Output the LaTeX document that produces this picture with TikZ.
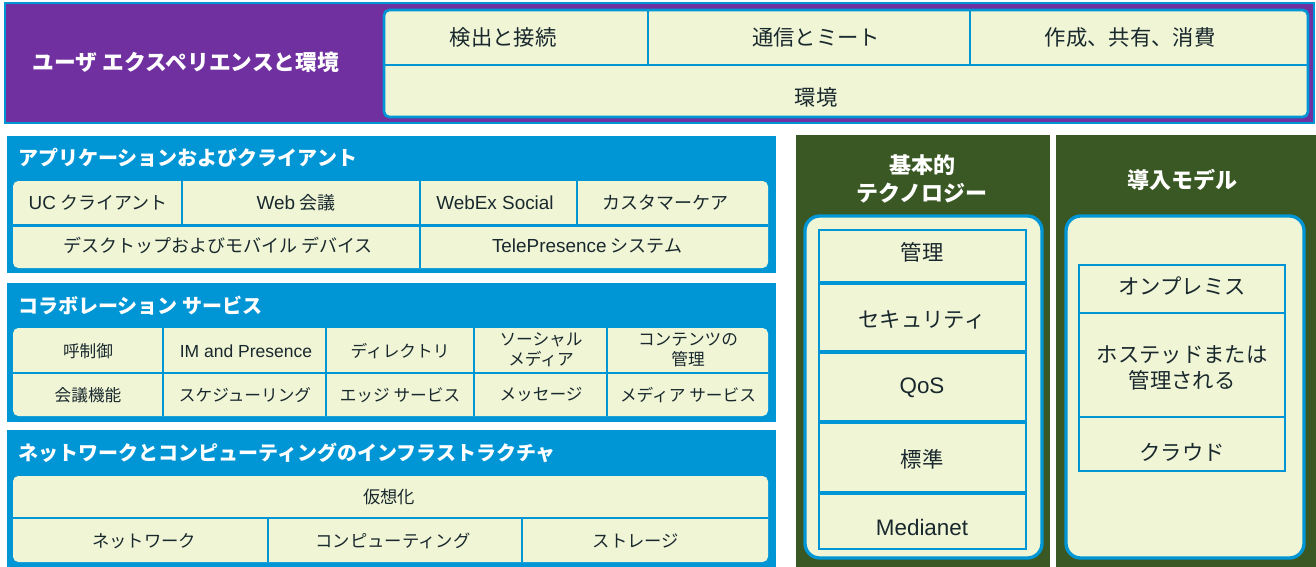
\documentclass[tikz,border=0pt]{standalone}
\usepackage{fontspec}
\setmainfont{Noto Sans CJK JP}
\newfontfamily\lat[Scale=1.05]{Liberation Sans}
\definecolor{cblue}{RGB}{0,150,214}
\definecolor{cpurple}{RGB}{112,48,160}
\definecolor{ccream}{RGB}{240,245,214}
\definecolor{cgreen}{RGB}{58,88,36}
\definecolor{ctext}{RGB}{25,40,45}
\newcommand\fsTop{\fontsize{16}{19}\selectfont}
\newcommand\fsHead{\fontsize{15}{18}\selectfont\bfseries}
\newcommand\fsBig{\fontsize{16.3}{19}\selectfont\bfseries}
\newcommand\fsApp{\fontsize{13.5}{16}\selectfont}
\newcommand\fsCol{\fontsize{12.5}{15}\selectfont}
\newcommand\fsNet{\fontsize{13}{16}\selectfont}
\newcommand\fsGreen{\fontsize{16}{20}\selectfont}
\newcommand\fsGHead{\fontsize{16.5}{21}\selectfont\bfseries}
\tikzset{
  lbl/.style={text=ctext, inner sep=0pt, align=center},
  toptxt/.style={lbl, font=\fsTop},
  apptxt/.style={lbl, font=\fsApp},
  coltxt/.style={lbl, font=\fsCol},
  nettxt/.style={lbl, font=\fsNet},
  grtxt/.style={lbl, font=\fsGreen},
  headtxt/.style={text=white, inner sep=0pt, anchor=west, font=\fsHead},
  ghead/.style={text=white, inner sep=0pt, align=center, font=\fsGHead},
  div/.style={cblue, line width=2pt},
  panel/.style={fill=ccream, rounded corners=4pt},
  bluebg/.style={fill=cblue},
  greenbg/.style={fill=cgreen},
  innerbox/.style={draw=cblue, line width=2.5pt, fill=ccream, rounded corners=11pt},
  stack/.style={draw=cblue, line width=0.8pt},
}
\begin{document}
\begin{tikzpicture}[x=0.75pt,y=-0.75pt]
\useasboundingbox[fill=white] (0,0) rectangle (1316,567);

% ---------- top band ----------
\draw[cblue, line width=1.5pt, fill=cpurple] (5,3) rectangle (1314,123);
\node[text=white, inner sep=0pt, font=\fsBig] (uxt) at (186,62) {ユーザ エクスペリエンスと環境};
\draw[cblue, line width=2pt, panel] (384,10) rectangle (1308,117);
\draw[div] (384,65) -- (1308,65);
\draw[div] (648,10) -- (648,65);
\draw[div] (970,10) -- (970,65);
\node[toptxt] (t1) at (503,37) {検出と接続};
\node[toptxt] (t2) at (816,37) {通信とミート};
\node[toptxt] (t3) at (1130,37) {作成、共有、消費};
\node[toptxt] (t4) at (816,97) {環境};

% ---------- applications ----------
\fill[bluebg] (7,136) rectangle (776,273);
\node[headtxt] (apph) at (18,158) {アプリケーションおよびクライアント};
\fill[panel] (13,181) rectangle (768,268);
\draw[div] (13,225.5) -- (768,225.5);
\draw[div] (182,181) -- (182,225.5);
\draw[div] (420,181) -- (420,268);
\draw[div] (577,181) -- (577,225.5);
\node[apptxt] (a1) at (98,203) {{\lat UC} クライアント};
\node[apptxt] (a2) at (296,203) {{\lat Web} 会議};
\node[apptxt] (a3) at (495,203) {\lat WebEx Social};
\node[apptxt] (a4) at (665,203) {カスタマーケア};
\node[apptxt] (a5) at (218,246) {デスクトップおよびモバイル デバイス};
\node[apptxt] (a6) at (587,246) {{\lat TelePresence} システム};

% ---------- collaboration ----------
\fill[bluebg] (7,283) rectangle (776,422);
\node[headtxt] (colh) at (18,306) {コラボレーション サービス};
\fill[panel] (13,328) rectangle (768,416);
\draw[div] (13,373) -- (768,373);
\foreach \xx in {163,326,474,607} \draw[div] (\xx,328) -- (\xx,416);
\node[coltxt] (c1) at (88,351) {呼制御};
\node[coltxt] (c2) at (246,351) {\lat IM and Presence};
\node[coltxt] (c3) at (400,351) {ディレクトリ};
\node[coltxt] (c4) at (541,350) {ソーシャル\\メディア};
\node[coltxt] (c5) at (688,350) {コンテンツの\\管理};
\node[coltxt] (c6) at (88,395) {会議機能};
\node[coltxt] (c7) at (245,395) {スケジューリング};
\node[coltxt] (c8) at (400,395) {エッジ サービス};
\node[coltxt] (c9) at (541,395) {メッセージ};
\node[coltxt] (c10) at (688,395) {メディア サービス};

% ---------- network ----------
\fill[bluebg] (7,430) rectangle (776,567);
\node[headtxt] (neth) at (18,453) {ネットワークとコンピューティングのインフラストラクチャ};
\fill[panel] (13,476) rectangle (768,562);
\draw[div] (13,518) -- (768,518);
\draw[div] (268,518) -- (268,562);
\draw[div] (522,518) -- (522,562);
\node[nettxt] (n1) at (389,497) {仮想化};
\node[nettxt] (n2) at (144,541) {ネットワーク};
\node[nettxt] (n3) at (393,541) {コンピューティング};
\node[nettxt] (n4) at (636,541) {ストレージ};

% ---------- basic technologies ----------
\fill[greenbg] (796,135) rectangle (1050,567);
\node[ghead] (g1h) at (922,179) {基本的\\テクノロジー};
\draw[innerbox] (805,216) rectangle (1042,558);
\draw[stack] (819,230) rectangle (1026,549);
\foreach \yy in {283,352,422,493} \draw[cblue, line width=2.5pt] (819,\yy) -- (1026,\yy);
\node[grtxt] (b1) at (922,252) {管理};
\node[grtxt] (b2) at (922,320) {セキュリティ};
\node[grtxt] (b3) at (922,388) {\lat QoS};
\node[grtxt] (b4) at (922,459) {標準};
\node[grtxt] (b5) at (922,527) {\lat Medianet};

% ---------- deployment models ----------
\fill[greenbg] (1056,135) rectangle (1316,567);
\node[ghead] (g2h) at (1182,180) {導入モデル};
\draw[innerbox] (1066,216) rectangle (1304,558);
\draw[stack] (1079,265) rectangle (1285,471);
\draw[cblue, line width=1.5pt] (1079,313) -- (1285,313);
\draw[cblue, line width=1.5pt] (1079,417) -- (1285,417);
\node[grtxt] (d1) at (1182,286) {オンプレミス};
\node[grtxt] (d2) at (1182,368) {ホステッドまたは\\管理される};
\node[grtxt] (d3) at (1182,452) {クラウド};
\end{tikzpicture}
\end{document}
